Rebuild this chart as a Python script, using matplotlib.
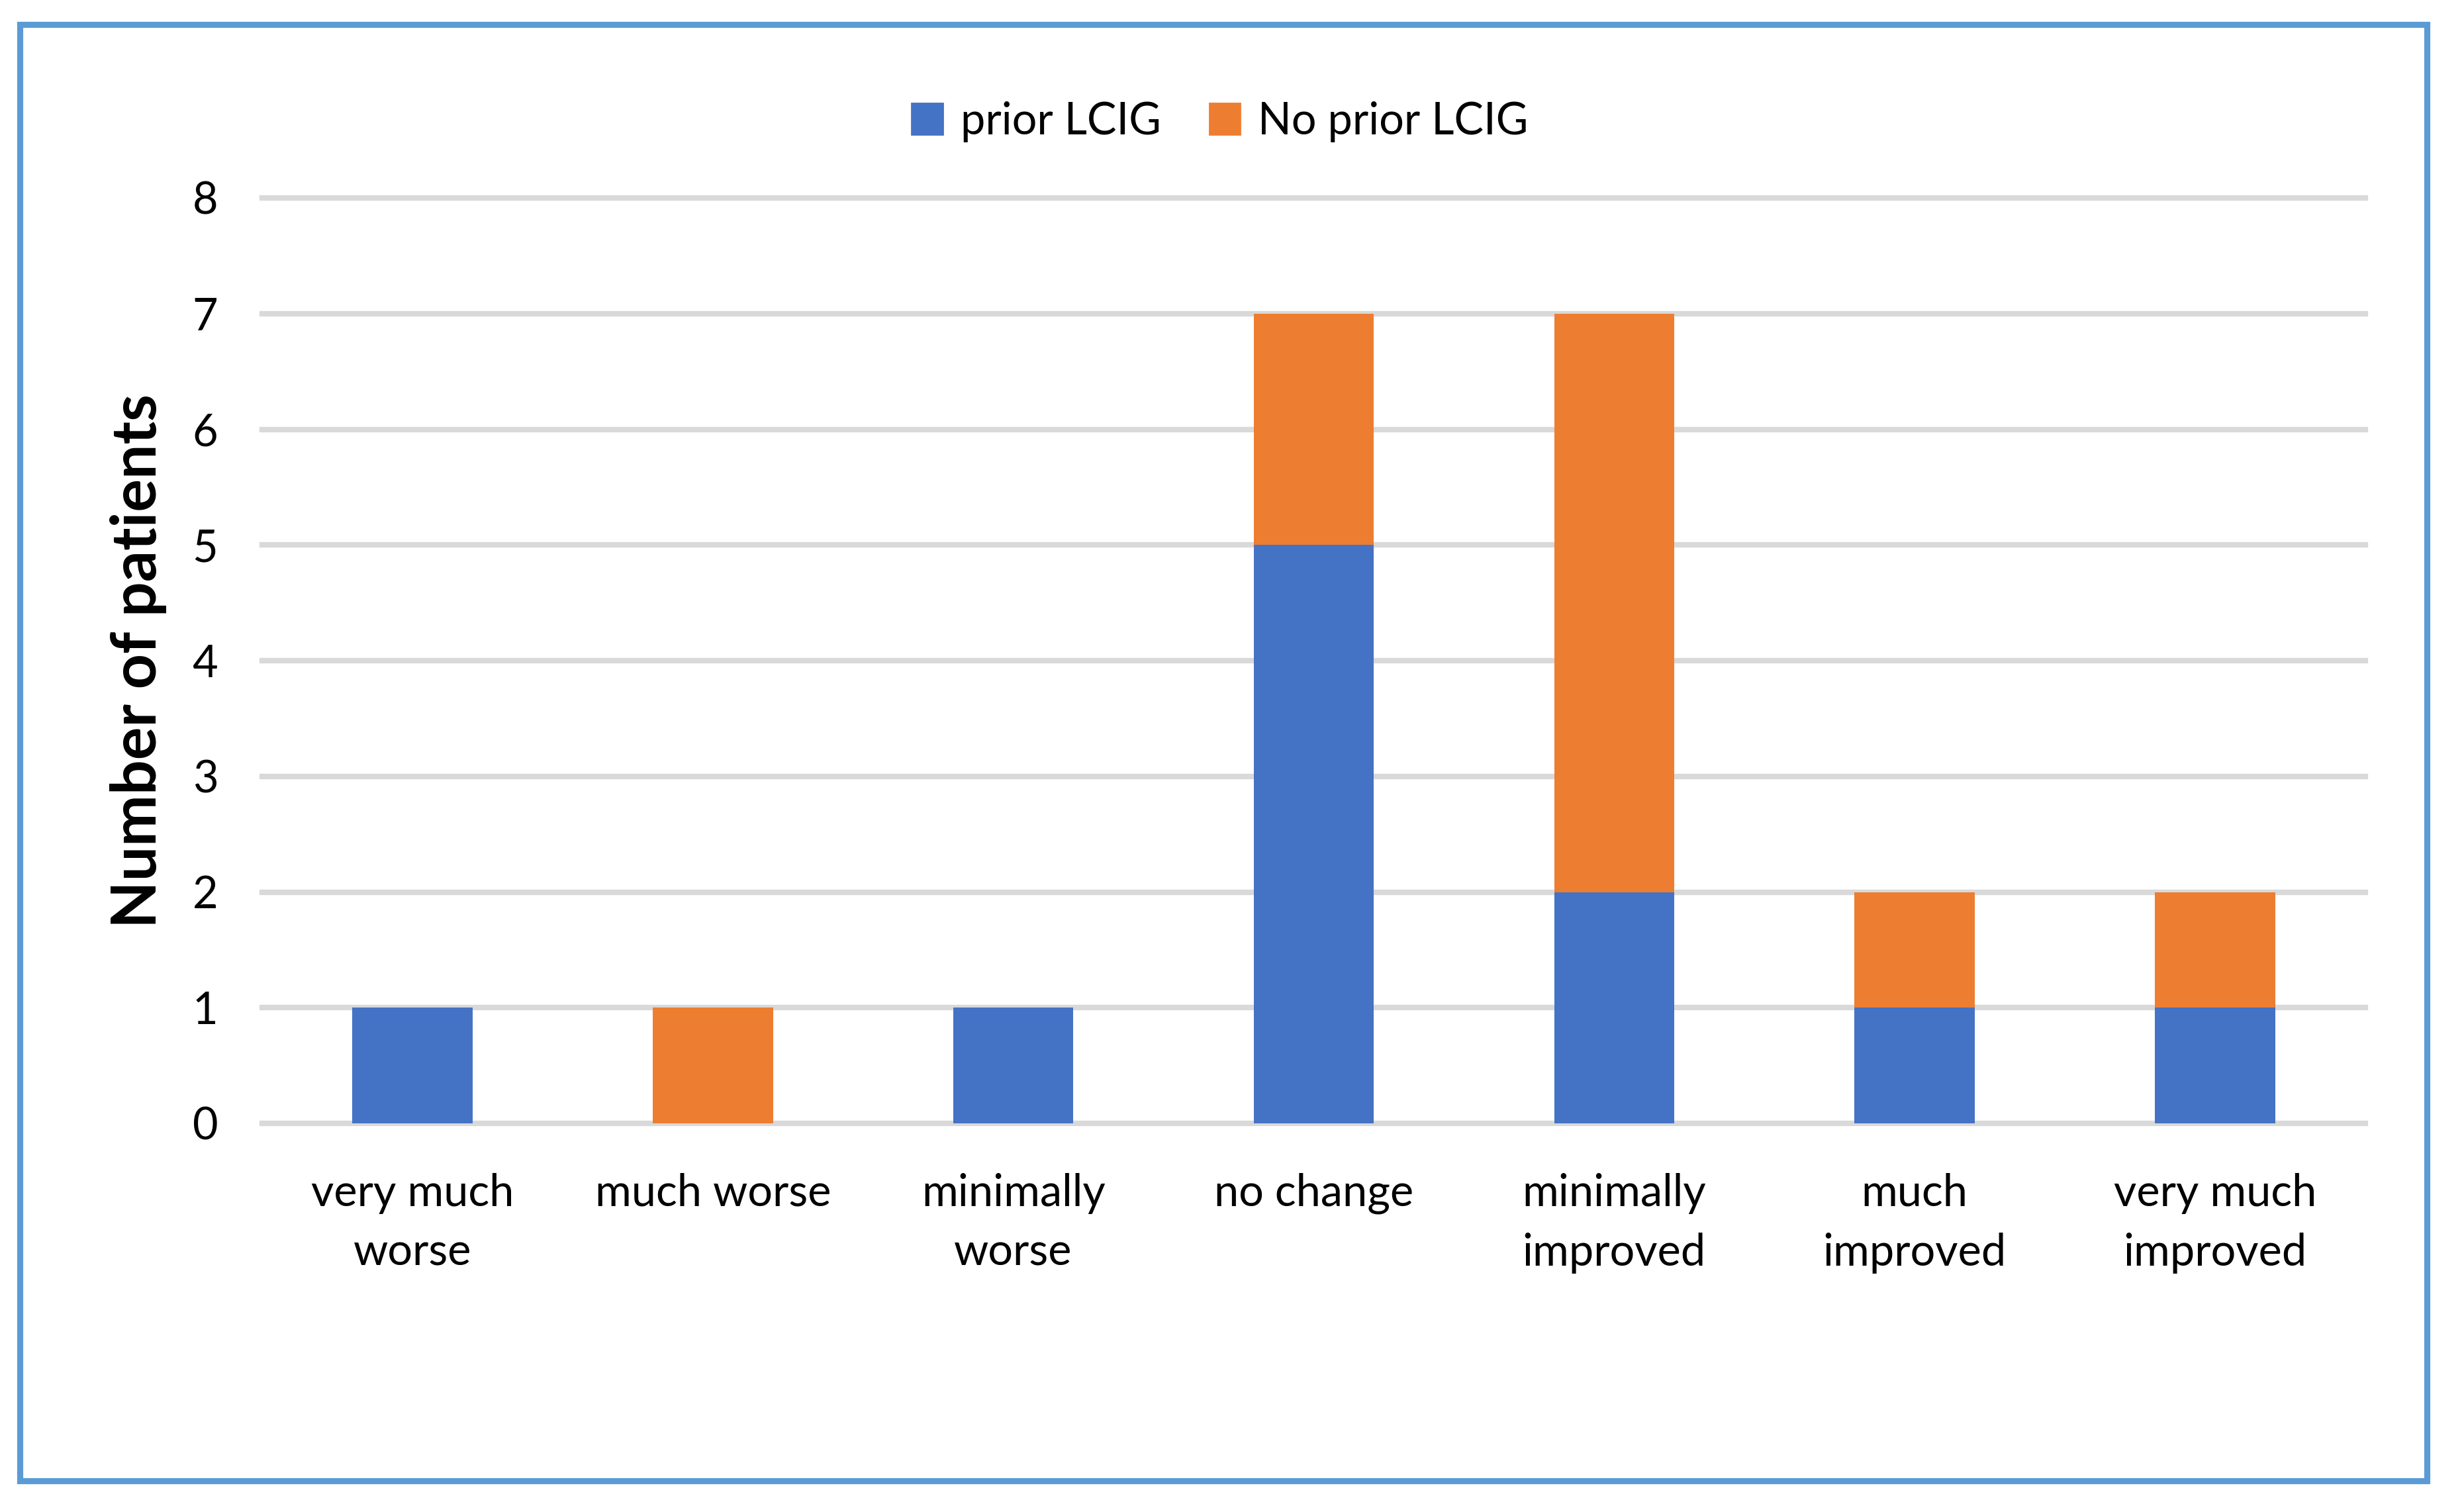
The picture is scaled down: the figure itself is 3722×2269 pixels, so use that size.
import matplotlib
matplotlib.use("Agg")
import matplotlib.pyplot as plt
from matplotlib.patches import Rectangle, Patch
import numpy as np

categories = ["very much\nworse", "much worse", "minimally\nworse", "no change",
              "minimally\nimproved", "much\nimproved", "very much\nimproved"]
prior_lcig = [1, 0, 1, 5, 2, 1, 1]
no_prior_lcig = [0, 1, 0, 2, 5, 1, 1]
yticks = [0, 1, 2, 3, 4, 5, 6, 7, 8]

BLUE = "#4472C4"
ORANGE = "#ED7D31"
GRID = "#D9D9D9"
FRAME = "#5B9BD5"

plt.rcParams['font.family'] = ['Lato', 'DejaVu Sans']

DPI = 200
fig = plt.figure(figsize=(3723 / DPI, 2269 / DPI), dpi=DPI)
ax = fig.add_axes([396 / 3723, 1 - 1697 / 2269, (3573 - 396) / 3723, (1697 - 299) / 2269])

x = np.arange(len(categories))
ax.bar(x, prior_lcig, width=0.4, color=BLUE, label="prior LCIG", zorder=3)
ax.bar(x, no_prior_lcig, width=0.4, bottom=prior_lcig, color=ORANGE,
       label="No prior LCIG", zorder=3)

ax.set_xlim(-0.5, len(categories) - 0.5)
ax.set_ylim(0, 8)
ax.set_yticks(yticks)
ax.set_xticks(x)
ax.set_xticklabels(categories, fontsize=24, linespacing=1.55)
ax.tick_params(axis='y', length=0, pad=24, labelsize=24)
ax.tick_params(axis='x', length=0, pad=27)
for s in ax.spines.values():
    s.set_visible(False)
ax.yaxis.grid(True, color=GRID, linewidth=3, zorder=0)
for gl in ax.get_ygridlines():
    gl.set_clip_on(False)
ax.set_axisbelow(True)

ax.set_ylabel("Number of patients", fontsize=33.5, fontweight='bold', labelpad=14)

handles = [Patch(color=BLUE, label="prior LCIG"), Patch(color=ORANGE, label="No prior LCIG")]
fig.legend(handles=handles, loc='center', bbox_to_anchor=(0.495, 0.919), ncol=2,
           frameon=False, fontsize=24, handlelength=0.7, handleheight=0.7,
           handletextpad=0.4, columnspacing=1.1)

fig.patches.append(Rectangle((30 / 3723, 1 - 2237 / 2269), (3666 - 30) / 3723,
                             (2237 - 37) / 2269, transform=fig.transFigure,
                             fill=False, edgecolor=FRAME, linewidth=3.3))

fig.savefig("out.png", dpi=DPI, facecolor="white")
